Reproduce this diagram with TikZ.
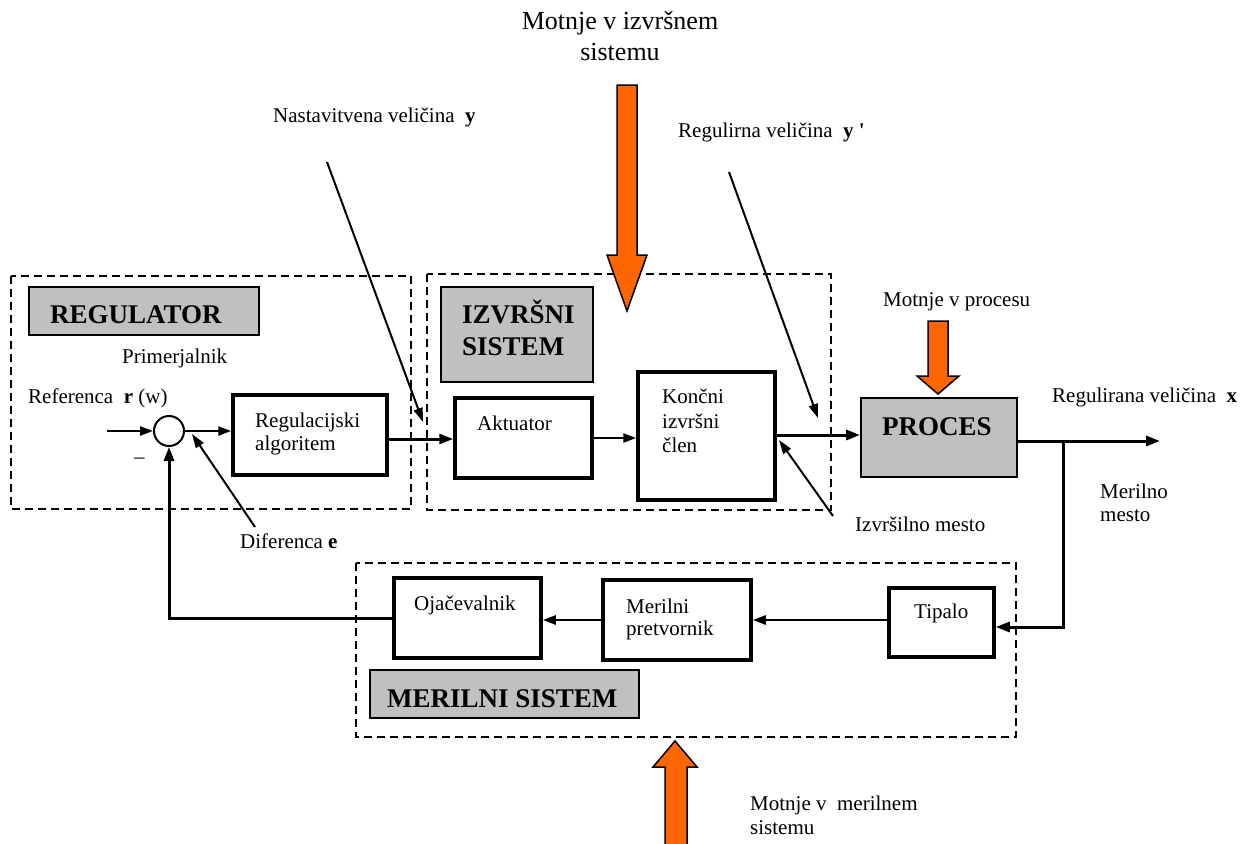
\documentclass[tikz,border=0pt]{standalone}
\usepackage{fontspec}
\setmainfont{Liberation Serif}
\usetikzlibrary{arrows.meta}
\definecolor{org}{HTML}{FF6600}
\definecolor{gry}{HTML}{C0C0C0}
\begin{document}
\begin{tikzpicture}[x=1pt,y=-1pt,
 lbl/.style={anchor=base west,inner sep=0pt,font=\fontsize{21}{25}\selectfont},
 big/.style={anchor=base,inner sep=0pt,font=\fontsize{26}{30}\selectfont},
 ttl/.style={anchor=base west,inner sep=0pt,font=\fontsize{27}{31}\selectfont\bfseries},
 blk/.style={draw,line width=3.5pt,inner sep=0pt},
 gbox/.style={draw,fill=gry,line width=1.8pt,inner sep=0pt},
 grp/.style={draw,line width=1.6pt,dash pattern=on 8pt off 5pt},
 sig/.style={line width=3pt,-{Triangle[length=14pt,width=10pt]}},
 sigs/.style={line width=2.5pt,-{Triangle[length=13pt,width=9pt]}},
 ptr/.style={line width=2pt,-{Triangle[length=14pt,width=9pt]}},
 dist/.style={draw=black,fill=org,line width=1.5pt,line join=miter}]
\useasboundingbox (0,0) rectangle (1247,843);

% group frames
\draw[grp] (11,276) rectangle (411,509);
\draw[grp] (427,274) rectangle (831,510);
\draw[grp] (356,563) rectangle (1016,737);

% title boxes
\node[gbox,minimum width=230pt,minimum height=48pt] (tReg) at (144,311) {};
\node[ttl] (tRegT) at (50,323) {REGULATOR};
\node[gbox,minimum width=152pt,minimum height=95pt] (tIzv) at (517,334.5) {};
\node[ttl] (tIzvA) at (462,323) {IZVRŠNI};
\node[ttl] (tIzvB) at (462,355) {SISTEM};
\node[gbox,minimum width=269pt,minimum height=48pt] (tMer) at (504.5,694) {};
\node[ttl] (tMerT) at (387,707) {MERILNI SISTEM};

% blocks
\node[draw,circle,line width=2pt,minimum size=30pt,inner sep=0pt] (sum) at (169,431) {};
\node[blk,minimum width=154pt,minimum height=80pt] (reg) at (310,435) {};
\node[lbl] (regA) at (255,427) {Regulacijski};
\node[lbl] (regB) at (255,450) {algoritem};
\node[blk,minimum width=137pt,minimum height=80pt] (akt) at (523.5,438) {};
\node[lbl] (aktT) at (477,430) {Aktuator};
\node[blk,minimum width=137pt,minimum height=128pt] (kon) at (706.5,436) {};
\node[lbl] (konA) at (662,403) {Končni};
\node[lbl] (konB) at (662,428) {izvršni};
\node[lbl] (konC) at (662,452) {člen};
\node[gbox,minimum width=156pt,minimum height=79pt] (proc) at (939,437.5) {};
\node[ttl] (procT) at (882,435) {PROCES};
\node[blk,minimum width=147pt,minimum height=80pt] (oja) at (467.5,618) {};
\node[lbl] (ojaT) at (414,610) {Ojačevalnik};
\node[blk,minimum width=148pt,minimum height=80pt] (mp) at (677,620) {};
\node[lbl] (mpA) at (626,613) {Merilni};
\node[lbl] (mpB) at (626,635) {pretvornik};
\node[blk,minimum width=105pt,minimum height=69pt] (tip) at (941.5,622.5) {};
\node[lbl] (tipT) at (914,618) {Tipalo};

% labels
\node[big] (mIzvA) at (620,30) {Motnje v izvršnem};
\node[big] (mIzvB) at (620,60) {sistemu};
\node[lbl] (nvl) at (273,122) {Nastavitvena veličina\ \ \textbf{y}};
\node[lbl] (rvl) at (678,137) {Regulirna veličina\ \ \textbf{y \textquotesingle}};
\node[lbl] (mpl) at (883,306) {Motnje v procesu};
\node[lbl] (rgl) at (1052,402) {Regulirana veličina\ \ \textbf{x}};
\node[lbl] (mmA) at (1100,498) {Merilno};
\node[lbl] (mmB) at (1100,521) {mesto};
\node[lbl] (iml) at (855,531) {Izvršilno mesto};
\node[lbl] (prl) at (122,363) {Primerjalnik};
\node[lbl] (rfl) at (28,403) {Referenca\ \ \textbf{r} (w)};
\node[lbl] (minus) at (134,463) {–};
\node[lbl] (dfl) at (240,548) {Diferenca \textbf{e}};
\node[lbl] (mmsA) at (750,810) {Motnje v\ \ merilnem};
\node[lbl] (mmsB) at (750,834) {sistemu};

% signal connectors
\coordinate (rin) at (107,431);
\draw[sigs] (rin) -- (sum.west);
\draw[sigs] (sum.east) -- (sum.east -| reg.west);
\draw[sig] ([yshift=-4pt]reg.east) -- ([yshift=-4pt]reg.east -| akt.west);
\draw[sigs] (akt.east) -- (akt.east -| kon.west);
\draw[sig] ([yshift=1pt]kon.east) -- ([yshift=1pt]kon.east -| proc.west);
\coordinate (out) at (1160,441);
\coordinate (br) at (1063,441);
\draw[sig] ([yshift=-3.5pt]proc.east) -- (out);
\draw[sig] (br) |- ([yshift=-4.5pt]tip.east);
\draw[sigs] ([yshift=2.5pt]tip.west) -- ([yshift=2.5pt]tip.west -| mp.east);
\draw[sigs] (mp.west) -- (mp.west -| oja.east);
\draw[sig] (oja.west) -- (sum |- oja.west) -- (sum.south);

% pointers
\coordinate (nvs) at (327,162); \coordinate (nvt) at (423,422);
\draw[ptr] (nvs) -- (nvt);
\coordinate (rvs) at (729,172); \coordinate (rvt) at (818,418);
\draw[ptr] (rvs) -- (rvt);
\coordinate (ims) at (833,516); \coordinate (imt) at (779,440);
\draw[ptr] (ims) -- (imt);
\coordinate (dfs) at (255,527); \coordinate (dft) at (192,434);
\draw[ptr] (dfs) -- (dft);

% disturbance arrows
\draw[dist] (617,85) -- (637,85) -- (637,255) -- (647,255) -- (627,311) -- (607,255) -- (617,255) -- cycle;
\draw[dist] (928,321) -- (948,321) -- (948,376) -- (959,376) -- (938,394) -- (917,376) -- (928,376) -- cycle;
\draw[dist] (665,860) -- (665,767) -- (653,767) -- (675,741) -- (697,767) -- (687,767) -- (687,860) -- cycle;
\end{tikzpicture}
\end{document}
